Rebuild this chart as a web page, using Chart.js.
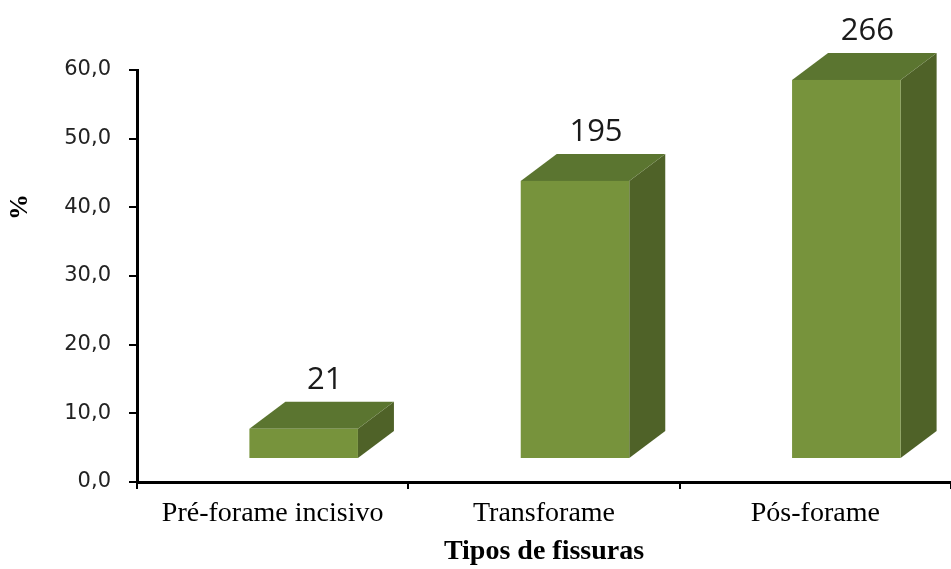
<!DOCTYPE html>
<html>
<head>
<meta charset="utf-8">
<script src="https://cdn.jsdelivr.net/npm/chart.js@4.4.1/dist/chart.umd.min.js"></script>
<style>
  html, body { margin: 0; padding: 0; background: #fff; }
  #wrap { width: 951px; height: 569px; }
</style>
</head>
<body>
<div id="wrap"><canvas id="chart" width="951" height="569"></canvas></div>
<script>
// data
var categories = ['Pré-forame incisivo', 'Transforame', 'Pós-forame'];
var percents = [4.4, 40.5, 55.2];
var counts = [21, 195, 266];
var yTicks = [0, 10, 20, 30, 40, 50, 60];

var frontColor = '#77933c';
var topColor = '#5b7530';
var sideColor = '#4f6228';

// 3d look: front face shifted, depth going back/up
var shiftX = 31, shiftY = -23;
var depthX = 36, depthY = -27;

var bars3d = {
    id: 'bars3d',
    afterDatasetsDraw: function (chart) {
        var ctx = chart.ctx;
        var meta = chart.getDatasetMeta(0);
        ctx.save();
        meta.data.forEach(function (bar, i) {
            var w = bar.width;
            var x0 = bar.x - w / 2 + shiftX;
            var x1 = bar.x + w / 2 + shiftX;
            var yt = bar.y + shiftY;
            var yb = bar.base + shiftY;

            // side
            ctx.fillStyle = sideColor;
            ctx.beginPath();
            ctx.moveTo(x1, yt);
            ctx.lineTo(x1 + depthX, yt + depthY);
            ctx.lineTo(x1 + depthX, yb + depthY);
            ctx.lineTo(x1, yb);
            ctx.closePath();
            ctx.fill();

            // top
            ctx.fillStyle = topColor;
            ctx.beginPath();
            ctx.moveTo(x0, yt);
            ctx.lineTo(x0 + depthX, yt + depthY);
            ctx.lineTo(x1 + depthX, yt + depthY);
            ctx.lineTo(x1, yt);
            ctx.closePath();
            ctx.fill();

            // front
            ctx.fillStyle = frontColor;
            ctx.fillRect(x0, yt, w, yb - yt);

            // count label
            ctx.fillStyle = '#1a1a1a';
            ctx.font = '31px "Open Sans", sans-serif';
            ctx.textAlign = 'center';
            ctx.textBaseline = 'middle';
            ctx.fillText(String(counts[i]), bar.x + shiftX + 21, yt + depthY - 22);
        });

        // y axis title
        ctx.translate(20, 207);
        ctx.rotate(-Math.PI / 2);
        ctx.fillStyle = '#000';
        ctx.font = 'bold 26px "Liberation Serif", serif';
        ctx.textAlign = 'center';
        ctx.textBaseline = 'middle';
        ctx.fillText('%', 0, 0);
        ctx.restore();
    }
};

var context = document.getElementById('chart');
new Chart(context, {
    type: 'bar',
    data: {
        labels: categories,
        datasets: [{
            data: percents,
            backgroundColor: 'rgba(0,0,0,0)',
            borderWidth: 0,
            categoryPercentage: 1.0,
            barPercentage: 0.4
        }]
    },
    options: {
        responsive: false,
        animation: false,
        layout: { padding: { top: 70, right: 0, left: 0, bottom: 0 } },
        plugins: {
            legend: { display: false },
            tooltip: { enabled: false }
        },
        scales: {
            x: {
                afterFit: function (scale) { scale.height = 87; },
                grid: {
                    drawOnChartArea: false,
                    drawTicks: true,
                    tickLength: 7,
                    color: '#000',
                    lineWidth: 2
                },
                border: { color: '#000', width: 3 },
                ticks: {
                    color: '#000',
                    padding: 8,
                    font: { family: '"Liberation Serif", serif', size: 28 }
                },
                title: {
                    display: true,
                    text: 'Tipos de fissuras',
                    color: '#000',
                    padding: { top: 0, bottom: 0 },
                    font: { family: '"Liberation Serif", serif', size: 28, weight: 'bold' }
                }
            },
            y: {
                min: 0,
                max: 60,
                afterFit: function (scale) { scale.width = 137; },
                afterBuildTicks: function (scale) {
                    scale.ticks = yTicks.map(function (v) { return { value: v }; });
                },
                grid: {
                    drawOnChartArea: false,
                    drawTicks: true,
                    tickLength: 8,
                    color: '#000',
                    lineWidth: 2
                },
                border: { color: '#000', width: 3 },
                ticks: {
                    color: '#222',
                    padding: 18,
                    font: { family: '"DejaVu Sans", sans-serif', size: 21 },
                    callback: function (v) { return v.toFixed(1).replace('.', ','); }
                }
            }
        }
    },
    plugins: [bars3d]
});
</script>
</body>
</html>
